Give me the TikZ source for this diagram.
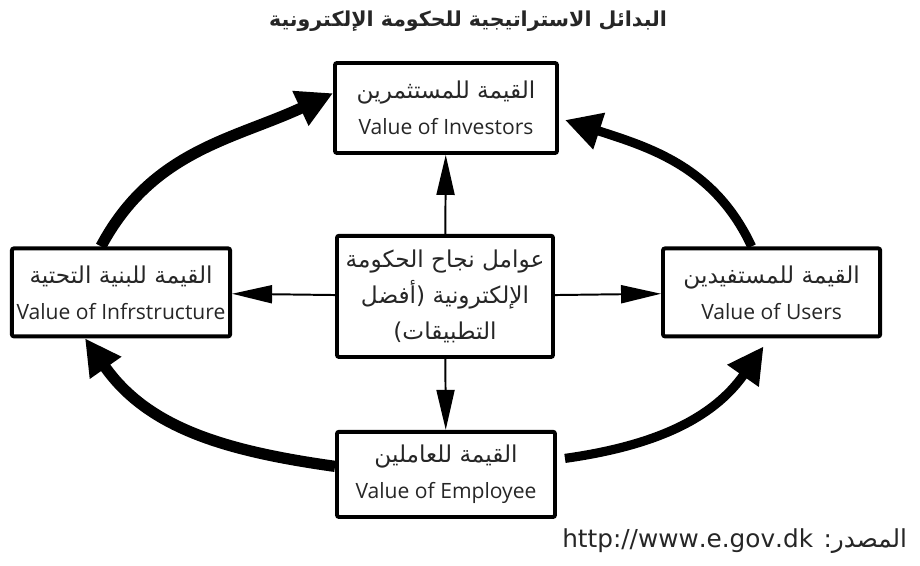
\documentclass[tikz,border=0pt]{standalone}
\usepackage{fontspec}
\setmainfont{Open Sans}
\newfontfamily\arabicfont[Script=Arabic, Scale=1.1]{DejaVu Sans}
\TeXXeTstate=1
\usetikzlibrary{arrows.meta}

\newcommand{\arab}[1]{{\arabicfont\beginR #1\endR}}

\begin{document}
\begin{tikzpicture}[
  valbox/.style={draw, line width=2.8pt, rounded corners=1.5pt, align=center,
    minimum width=5.45cm, minimum height=2.2cm,
    font=\fontsize{15}{25.5}\selectfont, text=black!85},
  thinarrow/.style={line width=1.4pt, -{Triangle[length=10mm, width=4.5mm]}},
  bigarrow/.style={line width=8pt, -{Triangle[length=9mm, width=9mm]}}
]
\useasboundingbox (0, 0) rectangle (23, 14.15);

%title
\node [font=\fontsize{13.3}{16}\selectfont\bfseries, text=black!85] (title) at (11.7, 13.62)
  {\arab{البدائل الاستراتيجية للحكومة الإلكترونية}};

%draw boxes
\node [valbox, minimum width=5.4cm, minimum height=3.03cm] (core) at (11.125, 6.74)
  {\arab{عوامل نجاح الحكومة}\\ \arab{الإلكترونية (أفضل}\\ \arab{التطبيقات)}};
\node [valbox, minimum width=5.55cm, minimum height=2.25cm] (inv) at (11.15, 11.45)
  {\arab{القيمة للمستثمرين}\\ Value of Investors};
\node [valbox] (infra) at (3.025, 6.84)
  {\arab{القيمة للبنية التحتية}\\ Value of Infrstructure};
\node [valbox, minimum width=5.43cm] (users) at (19.29, 6.84)
  {\arab{القيمة للمستفيدين}\\ Value of Users};
\node [valbox, minimum height=2.13cm] (emp) at (11.15, 2.29)
  {\arab{القيمة للعاملين}\\ Value of Employee};

%draw thin arrows out of the core
\draw[thinarrow] (core) -- (inv);
\draw[thinarrow] (core) -- (infra);
\draw[thinarrow] (core) -- (users);
\draw[thinarrow] (core) -- (emp);

%draw thick curved arrows
\draw[bigarrow] ([xshift=-5mm]infra.north) to[out=62, in=205] ([yshift=3.7mm]inv.west);
\draw[bigarrow, line width=6.5pt] ([xshift=-5mm]users.north) to[out=115, in=-18] ([xshift=1.5mm, yshift=-3mm]inv.east);
\draw[bigarrow] ([yshift=2mm]emp.west) to[out=172, in=-55] ([xshift=-9mm]infra.south);
\draw[bigarrow, line width=6.5pt] ([xshift=2mm, yshift=4mm]emp.east) to[out=8, in=235] ([xshift=-2mm, yshift=-2mm]users.south);

%source
\node [anchor=east, font=\fontsize{16}{19}\selectfont\arabicfont, text=black!85] (src) at (22.8, 0.62)
  {\beginR المصدر: \beginL http://www.e.gov.dk\endL\endR};

\end{tikzpicture}
\end{document}
